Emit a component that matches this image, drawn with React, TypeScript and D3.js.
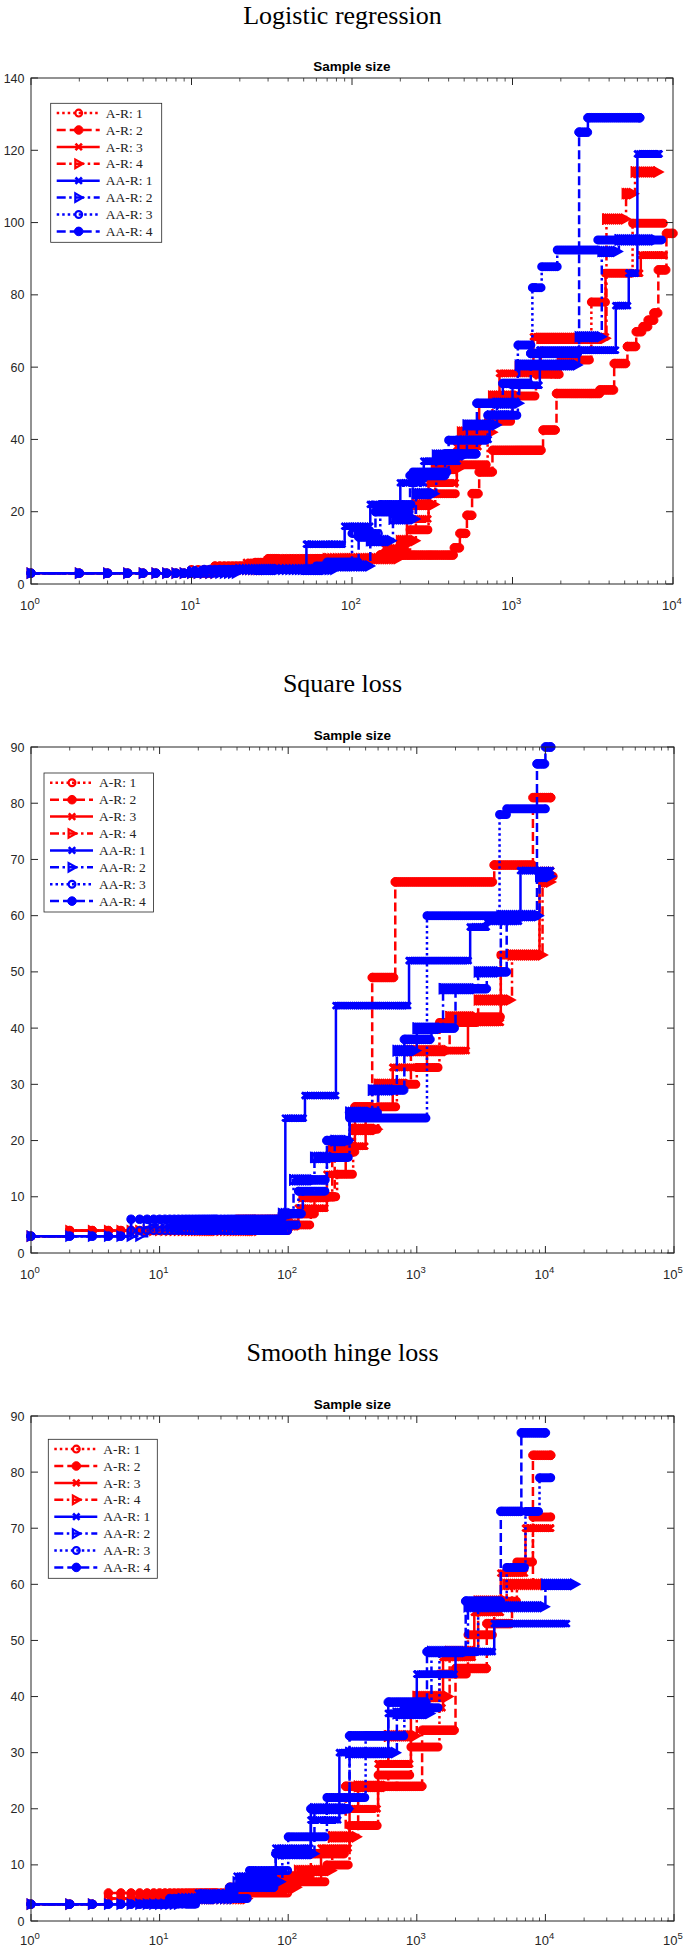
import React from 'react';
import * as d3 from 'd3';

type Knot = [number, number];

// ---------- series meta ----------
const SERIES_LABELS = ['A-R: 1', 'A-R: 2', 'A-R: 3', 'A-R: 4', 'AA-R: 1', 'AA-R: 2', 'AA-R: 3', 'AA-R: 4'];
const SERIES_COLORS = ['#ff0000', '#ff0000', '#ff0000', '#ff0000', '#0000ff', '#0000ff', '#0000ff', '#0000ff'];
const SERIES_MARKERS = ['o', '*', 'x', '>', 'x', '>', 'o', '*'];
const SERIES_DASH = [':', '--', '-', '-.', '-', '-.', ':', '--'];

const PANEL_TITLES = ['Logistic regression', 'Square loss', 'Smooth hinge loss'];
const AXIS_TITLE = 'Sample size';
const Y_MAX = [140, 90, 90];
const Y_STEP = [20, 10, 10];
const X_MAX_EXP = [4, 5, 5];

// ---------- Logistic regression ----------
const LR_AR1: Knot[] = [[1, 3], [10, 4], [25, 6], [60, 7], [150, 8], [230, 15], [300, 25], [450, 33], [700, 45], [1000, 52], [1400, 58], [2000, 62], [3100, 78], [3800, 86], [5600, 99.8], [8700, 99.8]];
const LR_AR2: Knot[] = [[1, 3], [14, 5], [30, 7], [150, 8], [434, 10], [470, 14], [520, 19], [560, 25], [620, 31], [750, 37], [1550, 42.6], [1880, 52.7], [3500, 53.7], [4300, 61], [5200, 65.7], [5900, 69.8], [6500, 71.2], [7000, 73], [7600, 75], [8100, 86.9], [9100, 97], [10000, 97]];
const LR_AR3: Knot[] = [[1, 3], [12, 4], [22, 6], [50, 7], [160, 10], [220, 18], [300, 28], [450, 38], [620, 50], [830, 58.3], [1350, 68.4], [3800, 86], [6300, 91], [8800, 91]];
const LR_AR4: Knot[] = [[1, 3], [15, 4], [30, 6], [70, 7], [200, 12], [250, 22], [330, 32], [480, 42], [750, 52], [1100, 60], [1500, 68], [3850, 101], [5100, 108], [5800, 114], [8100, 114]];
const LR_AAR1: Knot[] = [[1, 3], [10, 4], [52, 11], [90, 16], [130, 22], [200, 28], [280, 34], [460, 40], [720, 47], [1000, 55], [1480, 64.7], [4400, 77], [5300, 86], [6000, 119], [8200, 119]];
const LR_AAR2: Knot[] = [[1, 3], [20, 4], [80, 5], [130, 12], [180, 18], [250, 25], [335, 35.7], [520, 44], [800, 50], [1100, 60.6], [2600, 68.4], [3600, 92], [4600, 95.2], [7800, 95.2]];
const LR_AAR3: Knot[] = [[1, 3], [15, 4], [60, 5], [100, 14], [150, 22], [240, 31], [400, 39.8], [700, 46.7], [1080, 66.1], [1330, 82], [1520, 87.8], [1900, 92.4], [3400, 95.2], [8500, 95.2]];
const LR_AAR4: Knot[] = [[1, 3], [12, 4], [70, 6], [110, 13], [140, 20], [230, 30], [380, 36], [600, 50], [870, 55.5], [1300, 63.8], [2600, 125], [2950, 129], [6200, 129]];

// ---------- Square loss ----------
const SQ_AR1: Knot[] = [[1, 3], [2, 4], [100, 5], [150, 10], [240, 14], [320, 22], [500, 26], [700, 30], [1000, 33], [1500, 41], [3000, 42], [4500, 53], [9000, 67], [11500, 67]];
const SQ_AR2: Knot[] = [[1, 3], [2, 4], [40, 6], [100, 7], [160, 10], [230, 18], [330, 26], [450, 49], [680, 66], [4000, 69], [8000, 81], [11000, 81]];
const SQ_AR3: Knot[] = [[1, 3], [2, 4], [80, 5], [120, 8], [200, 14], [280, 19], [400, 26], [650, 33], [1200, 36], [2500, 41], [4500, 53], [9000, 68], [11000, 68]];
const SQ_AR4: Knot[] = [[1, 3], [2, 4], [60, 5], [130, 10], [220, 19], [330, 22], [500, 30], [900, 36], [1800, 42], [3000, 45], [5500, 53], [9500, 66], [11000, 66]];
const SQ_AAR1: Knot[] = [[1, 3], [6, 6], [95, 24], [135, 28], [235, 44], [870, 52], [2600, 58], [3500, 59], [6400, 68], [11000, 68]];
const SQ_AAR2: Knot[] = [[1, 3], [8, 5], [90, 7], [110, 13], [160, 17], [230, 20], [300, 25], [450, 29], [700, 36], [1000, 40], [1600, 47], [3000, 50], [4500, 60], [9000, 67], [11000, 67]];
const SQ_AAR3: Knot[] = [[1, 3], [6, 4], [100, 5], [120, 11], [200, 17], [300, 24], [1200, 60], [4400, 78], [5000, 79], [10000, 79]];
const SQ_AAR4: Knot[] = [[1, 3], [6, 6], [90, 7], [130, 13], [200, 20], [300, 25], [500, 29], [800, 38], [1300, 40], [2000, 47], [3500, 50], [5000, 60], [8600, 87], [10000, 90], [11000, 90]];

// ---------- Smooth hinge loss ----------
const SH_AR1: Knot[] = [[1, 3], [4, 4], [40, 5], [100, 7], [200, 10], [300, 17], [500, 26], [900, 31], [1500, 44], [2500, 51], [4000, 57], [6000, 64], [8000, 72], [11000, 72]];
const SH_AR2: Knot[] = [[1, 3], [4, 5], [35, 6], [80, 8], [150, 12], [280, 24], [700, 24], [1100, 34], [2000, 45], [3500, 53], [5500, 60], [8000, 83], [11000, 83]];
const SH_AR3: Knot[] = [[1, 3], [4, 4], [30, 5], [90, 7], [180, 13], [300, 20], [500, 28], [900, 38], [1600, 47], [2800, 55], [4500, 62], [7000, 70], [11000, 70]];
const SH_AR4: Knot[] = [[1, 3], [4, 4], [50, 6], [120, 9], [220, 15], [350, 24], [600, 33], [1000, 40], [1800, 48], [3000, 57], [5000, 60], [10000, 60]];
const SH_AAR1: Knot[] = [[1, 3], [20, 5], [40, 8], [80, 13], [150, 18], [250, 30], [600, 37], [1000, 44], [2000, 48], [4000, 53], [14600, 53]];
const SH_AAR2: Knot[] = [[1, 3], [15, 4], [40, 7], [90, 12], [160, 20], [300, 30], [700, 37], [1300, 48], [2500, 56], [10000, 60], [17000, 60]];
const SH_AAR3: Knot[] = [[1, 3], [20, 4], [50, 9], [100, 15], [200, 22], [400, 33], [800, 38], [1500, 48], [3000, 56], [5000, 63], [7000, 73], [9000, 79], [11000, 79]];
const SH_AAR4: Knot[] = [[1, 3], [12, 4], [35, 6], [80, 12], [150, 20], [300, 33], [600, 39], [1200, 48], [2400, 57], [4500, 73], [6500, 87], [10000, 87]];

const PANEL_DATA: Knot[][][] = [
  [LR_AR1, LR_AR2, LR_AR3, LR_AR4, LR_AAR1, LR_AAR2, LR_AAR3, LR_AAR4],
  [SQ_AR1, SQ_AR2, SQ_AR3, SQ_AR4, SQ_AAR1, SQ_AAR2, SQ_AAR3, SQ_AAR4],
  [SH_AR1, SH_AR2, SH_AR3, SH_AR4, SH_AAR1, SH_AAR2, SH_AAR3, SH_AAR4],
];

// ---------- layout ----------
const W = 685;
const H = 1948;
const PANELS = [
  { top: 78, bottom: 584, left: 31, right: 673, titleY: 24, tickLabelY: 610, legend: { x: 50.7, y: 103.3, w: 111, h: 139 } },
  { top: 747, bottom: 1253, left: 31, right: 674, titleY: 692, tickLabelY: 1279, legend: { x: 44, y: 773, w: 109.5, h: 139 } },
  { top: 1416, bottom: 1921, left: 31, right: 674, titleY: 1361, tickLabelY: 1945, legend: { x: 48.3, y: 1439.3, w: 109, h: 139 } },
];

const AXIS_COLOR = '#262626';
const SANS = '"Liberation Sans", Arial, Helvetica, sans-serif';
const SERIF = '"Liberation Serif", "Times New Roman", serif';
const LW = 2.5;

function dashArray(d: string): string | undefined {
  if (d === ':') return '2.5 3';
  if (d === '--') return '9 4';
  if (d === '-.') return '9 3.5 2.5 3.5';
  return undefined;
}

function valueAt(knots: Knot[], n: number): number {
  let v = knots[0][1];
  for (const k of knots) {
    if (k[0] <= n) v = k[1];
    else break;
  }
  return v;
}

function markerNs(knots: Knot[], pxPerDecade: number): number[] {
  const end = knots[knots.length - 1][0];
  const s = new Set<number>();
  let n = 1;
  while (n <= end) {
    s.add(n);
    const target = Math.pow(10, Math.log10(n) + 2 / pxPerDecade);
    n = Math.max(n + 1, Math.ceil(target));
  }
  knots.forEach((k) => s.add(k[0]));
  s.add(end);
  return Array.from(s).sort((a, b) => a - b);
}

function markerPath(kind: string, pts: [number, number][]): string {
  let d = '';
  for (const [x, y] of pts) {
    if (kind === '*') {
      const r = 4.3;
      d += `M${x - r},${y}a${r},${r} 0 1,0 ${2 * r},0a${r},${r} 0 1,0 ${-2 * r},0`;
    } else if (kind === 'o') {
      const r = 3.4;
      d += `M${x - r},${y}a${r},${r} 0 1,0 ${2 * r},0a${r},${r} 0 1,0 ${-2 * r},0`;
    } else if (kind === 'x') {
      const r = 3.2;
      d += `M${x - r},${y - r}L${x + r},${y + r}M${x - r},${y + r}L${x + r},${y - r}`;
    } else if (kind === '>') {
      d += `M${x + 4.1},${y}L${x - 3.4},${y - 4.2}L${x - 3.4},${y + 4.2}Z`;
    }
  }
  return d;
}

function MarkerGlyph({ kind, x, y, color }: { kind: string; x: number; y: number; color: string }) {
  const d = markerPath(kind, [[x, y]]);
  if (kind === '*') return <path d={d} fill={color} stroke={color} strokeWidth={1} />;
  return <path d={d} fill="none" stroke={color} strokeWidth={kind === 'x' ? 2.6 : 2.2} />;
}

function Panel({ idx }: { idx: number }) {
  const p = PANELS[idx];
  const yMax = Y_MAX[idx];
  const xMaxExp = X_MAX_EXP[idx];
  const x = d3.scaleLog().domain([1, Math.pow(10, xMaxExp)]).range([p.left, p.right]);
  const y = d3.scaleLinear().domain([0, yMax]).range([p.bottom, p.top]);
  const pxPerDecade = (p.right - p.left) / xMaxExp;
  const series = PANEL_DATA[idx];

  const line = d3
    .line<Knot>()
    .x((d) => x(d[0]))
    .y((d) => y(d[1]))
    .curve(d3.curveStepAfter);

  const majors = d3.range(0, xMaxExp + 1).map((e) => Math.pow(10, e));
  const minors: number[] = [];
  for (let e = 0; e < xMaxExp; e++) for (let m = 2; m <= 9; m++) minors.push(m * Math.pow(10, e));
  const yTicks = d3.range(0, yMax + 0.001, Y_STEP[idx]);

  const clipId = `clip${idx}`;
  const lg = p.legend;

  return (
    <g>
      <text x={W / 2} y={p.titleY} textAnchor="middle" fontFamily={SERIF} fontSize={26} fill="#000">
        {PANEL_TITLES[idx]}
      </text>
      <text x={(p.left + p.right) / 2} y={p.top - 7} textAnchor="middle" fontFamily={SANS} fontWeight="bold" fontSize={13.5} fill="#000">
        {AXIS_TITLE}
      </text>
      <defs>
        <clipPath id={clipId}>
          <rect x={p.left} y={p.top - 6} width={p.right - p.left} height={p.bottom - p.top + 6} />
        </clipPath>
      </defs>
      <g>
        {series.map((knots, i) => {
          const color = SERIES_COLORS[i];
          const kind = SERIES_MARKERS[i];
          const ns = markerNs(knots, pxPerDecade);
          const pts: [number, number][] = ns.map((n) => [x(n), y(valueAt(knots, n))]);
          const md = markerPath(kind, pts);
          return (
            <g key={i}>
              <path d={line(knots) || ''} fill="none" stroke={color} strokeWidth={LW} strokeDasharray={dashArray(SERIES_DASH[i])} clipPath={`url(#${clipId})`} />
              {kind === '*' ? (
                <path d={md} fill={color} stroke={color} strokeWidth={1} />
              ) : (
                <path d={md} fill="none" stroke={color} strokeWidth={kind === 'x' ? 2.6 : 2.2} />
              )}
            </g>
          );
        })}
      </g>
      <rect x={p.left} y={p.top} width={p.right - p.left} height={p.bottom - p.top} fill="none" stroke={AXIS_COLOR} strokeWidth={1} />
      {majors.map((t) => (
        <g key={'M' + t}>
          <line x1={x(t)} x2={x(t)} y1={p.bottom} y2={p.bottom - 7} stroke={AXIS_COLOR} strokeWidth={1} />
          <line x1={x(t)} x2={x(t)} y1={p.top} y2={p.top + 7} stroke={AXIS_COLOR} strokeWidth={1} />
          <text x={x(t) - 1} y={p.tickLabelY} textAnchor="middle" fontFamily={SANS} fontSize={13} fill={AXIS_COLOR}>
            10<tspan dy={-6} fontSize={9.5}>{Math.round(Math.log10(t))}</tspan>
          </text>
        </g>
      ))}
      {minors.map((t) => (
        <g key={'m' + t}>
          <line x1={x(t)} x2={x(t)} y1={p.bottom} y2={p.bottom - 3.5} stroke={AXIS_COLOR} strokeWidth={0.8} />
          <line x1={x(t)} x2={x(t)} y1={p.top} y2={p.top + 3.5} stroke={AXIS_COLOR} strokeWidth={0.8} />
        </g>
      ))}
      {yTicks.map((t) => (
        <g key={'y' + t}>
          <line x1={p.left} x2={p.left + 7} y1={y(t)} y2={y(t)} stroke={AXIS_COLOR} strokeWidth={1} />
          <line x1={p.right} x2={p.right - 7} y1={y(t)} y2={y(t)} stroke={AXIS_COLOR} strokeWidth={1} />
          <text x={p.left - 6.5} y={y(t) + 4.5} textAnchor="end" fontFamily={SANS} fontSize={12.5} fill={AXIS_COLOR}>
            {t}
          </text>
        </g>
      ))}
      <g>
        <rect x={lg.x} y={lg.y} width={lg.w} height={lg.h} fill="#fff" stroke={AXIS_COLOR} strokeWidth={0.8} />
        {SERIES_LABELS.map((lab, i) => {
          const cy = lg.y + 9.8 + i * 16.9;
          const color = SERIES_COLORS[i];
          return (
            <g key={lab}>
              <line x1={lg.x + 6} x2={lg.x + 49} y1={cy} y2={cy} stroke={color} strokeWidth={LW} strokeDasharray={dashArray(SERIES_DASH[i])} />
              <MarkerGlyph kind={SERIES_MARKERS[i]} x={lg.x + 28} y={cy} color={color} />
              <text x={lg.x + 55} y={cy + 4.6} fontFamily={SERIF} fontSize={13.5} fill="#222">
                {lab}
              </text>
            </g>
          );
        })}
      </g>
    </g>
  );
}

export default function App() {
  return (
    <svg width={W} height={H} viewBox={`0 0 ${W} ${H}`} style={{ position: 'absolute', left: 0, top: 0, display: 'block', background: '#fff' }}>
      <rect x={0} y={0} width={W} height={H} fill="#fff" />
      {[0, 1, 2].map((i) => (
        <Panel key={i} idx={i} />
      ))}
    </svg>
  );
}
